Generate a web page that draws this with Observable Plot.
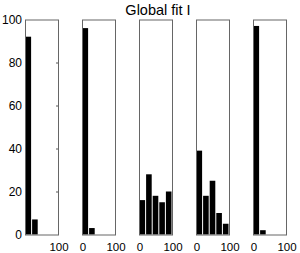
<!DOCTYPE html>
<html>
<head>
<meta charset="utf-8">
<script src="https://cdn.jsdelivr.net/npm/d3@7"></script>
<script src="https://cdn.jsdelivr.net/npm/@observablehq/plot@0.6"></script>
<style>
  body { margin: 0; background: white; }
  #wrap { position: relative; width: 300px; height: 253px; }
  #title { position: absolute; top: 3px; left: 158px; transform: translateX(-50%);
    font-family: "Liberation Sans", Arial, sans-serif; font-size: 14.5px; line-height: 14.5px;
    white-space: nowrap; color: #000; }
</style>
</head>
<body>
<div id="wrap"><div id="title">Global fit I</div></div>
<script>
const titleText = "Global fit I";
const panels = [1, 2, 3, 4, 5];
const binEdges = [0, 20, 40, 60, 80, 100];
const counts1 = [92, 7, 0, 0, 0];
const counts2 = [96, 3, 0, 0, 0];
const counts3 = [16, 28, 18, 15, 20];
const counts4 = [39, 18, 25, 10, 5];
const counts5 = [97, 2, 0, 0, 0];
const yTicks = [0, 20, 40, 60, 80, 100];
const yInnerTicks = [20, 40, 60, 80];
const xTickLabels = [
  {panel: 1, value: 100, label: "100"},
  {panel: 2, value: 0, label: "0"}, {panel: 2, value: 100, label: "100"},
  {panel: 3, value: 0, label: "0"}, {panel: 3, value: 100, label: "100"},
  {panel: 4, value: 0, label: "0"}, {panel: 4, value: 100, label: "100"},
  {panel: 5, value: 0, label: "0"}, {panel: 5, value: 100, label: "100"}
];

const series = [counts1, counts2, counts3, counts4, counts5];
const bars = panels.flatMap((p, i) => series[i].map((c, j) => ({
  panel: p, x1: binEdges[j], x2: binEdges[j + 1], count: c
}))).filter(d => d.count > 0);
const innerTicks = yInnerTicks.map(v => ({panel: 1, y: v}));

const chart = Plot.plot({
  width: 300,
  height: 253,
  marginTop: 19.5,
  marginBottom: 18.5,
  marginLeft: 24,
  marginRight: 13,
  style: {fontFamily: "'Liberation Sans', Arial, sans-serif", fontSize: "12px", color: "#000", background: "white", overflow: "visible"},
  fx: {domain: panels, paddingInner: 0.426, paddingOuter: 0, axis: null},
  x: {domain: [0, 100], axis: null},
  y: {domain: [0, 100], axis: null},
  marks: [
    Plot.rectY(bars, {fx: "panel", x1: "x1", x2: "x2", y: "count", fill: "black", insetLeft: 0.5, insetRight: 0.5}),
    Plot.ruleY(innerTicks, {fx: "panel", y: "y", x1: 94, x2: 100, stroke: "#555"}),
    Plot.frame({stroke: "#666"}),
    Plot.axisY({ticks: yTicks, tickSize: 0, tickPadding: 3.5, fontSize: 12, label: null}),
    Plot.text(xTickLabels, {fx: "panel", x: "value", text: "label", frameAnchor: "bottom", lineAnchor: "middle", dy: 12, fontSize: 11.5, dx: 0.5})
  ]
});
document.getElementById("wrap").appendChild(chart);
</script>
</body>
</html>
